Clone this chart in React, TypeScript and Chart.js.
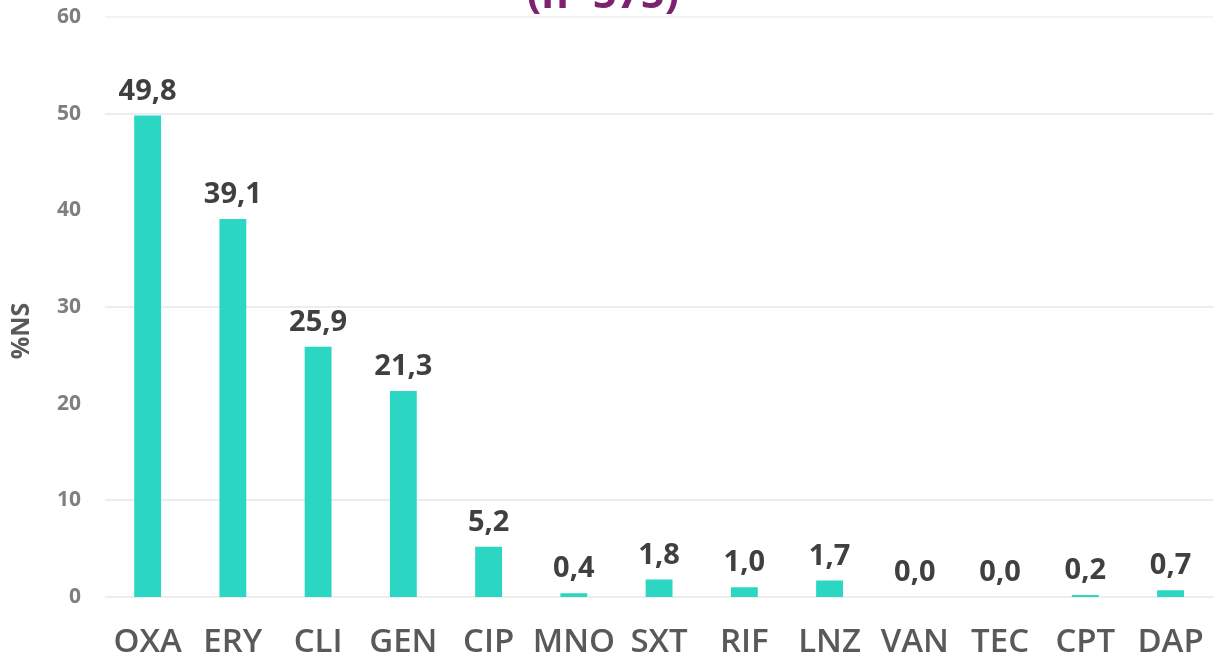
import React, { useEffect, useRef } from "react";
import { Chart, registerables } from "chart.js";

Chart.register(...registerables);

const categories = ["OXA", "ERY", "CLI", "GEN", "CIP", "MNO", "SXT", "RIF", "LNZ", "VAN", "TEC", "CPT", "DAP"];
const valuesNS = [49.8, 39.1, 25.9, 21.3, 5.2, 0.4, 1.8, 1.0, 1.7, 0.0, 0.0, 0.2, 0.7];
const titleText = "(n=575)";
const yAxisTitle = "%NS";
const visibleGridValues = [0, 10, 30, 50, 60];

const FONT = "'Open Sans', 'DejaVu Sans', sans-serif";
const TOP_OFFSET = 32;

const overlayTextPlugin = {
  id: "overlayText",
  beforeDatasetsDraw(chart: any) {
    const { ctx, chartArea } = chart;
    const yScale = chart.scales.y;
    ctx.save();
    ctx.strokeStyle = "#EDEDED";
    ctx.lineWidth = 2;
    visibleGridValues.forEach((v) => {
      const y = Math.round(yScale.getPixelForValue(v));
      ctx.strokeStyle = v === 60 ? "#F3F3F3" : "#EDEDED";
      ctx.beginPath();
      ctx.moveTo(chartArea.left, y);
      ctx.lineTo(chartArea.right, y);
      ctx.stroke();
    });
    ctx.restore();
  },
  afterDraw(chart: any) {
    const { ctx } = chart;
    ctx.save();
    ctx.font = `700 42px ${FONT}`;
    ctx.fillStyle = "#7B2371";
    ctx.textAlign = "center";
    ctx.textBaseline = "alphabetic";
    ctx.fillText(titleText, 603, TOP_OFFSET + 8);
    ctx.translate(22, TOP_OFFSET + 331);
    ctx.rotate(-Math.PI / 2);
    ctx.font = `700 25px ${FONT}`;
    ctx.fillStyle = "#595959";
    ctx.textBaseline = "middle";
    ctx.fillText(yAxisTitle, 0, 0);
    ctx.restore();
  },
  afterDatasetsDraw(chart: any) {
    const { ctx } = chart;
    const meta = chart.getDatasetMeta(0);
    ctx.save();
    ctx.font = `700 29px ${FONT}`;
    ctx.fillStyle = "#404040";
    ctx.textAlign = "center";
    ctx.textBaseline = "alphabetic";
    meta.data.forEach((bar: any, i: number) => {
      const v = valuesNS[i];
      const txt = v.toFixed(1).replace(".", ",");
      ctx.fillText(txt, bar.x, bar.y - 16);
    });
    ctx.restore();
  },
};

export default function App() {
  const canvasRef = useRef<HTMLCanvasElement | null>(null);

  useEffect(() => {
    if (!canvasRef.current) return;
    const chart = new Chart(canvasRef.current, {
      type: "bar",
      data: {
        labels: categories,
        datasets: [
          {
            data: valuesNS,
            backgroundColor: "#2BD6C2",
            borderWidth: 0,
            barPercentage: 0.9,
            categoryPercentage: 0.35,
          },
        ],
      },
      options: {
        animation: false,
        responsive: false,
        maintainAspectRatio: false,
        layout: { padding: { left: 0, right: 8, top: TOP_OFFSET + 17, bottom: 0 } },
        plugins: {
          legend: { display: false },
          tooltip: { enabled: false },
          title: { display: false },
        },
        scales: {
          x: {
            afterFit(scale: any) {
              scale.height = 62;
            },
            grid: { display: false, drawTicks: false },
            border: { display: false },
            ticks: {
              color: "#595959",
              font: { family: FONT, size: 33, weight: 600 },
              padding: 26,
              maxRotation: 0,
              autoSkip: false,
            },
          },
          y: {
            min: 0,
            max: 60,
            afterFit(scale: any) {
              scale.width = 105;
            },
            border: { display: false },
            grid: { display: false, drawTicks: false },
            ticks: {
              stepSize: 10,
              color: "#7F7F7F",
              font: { family: FONT, size: 21, weight: "bold" },
              padding: 24,
            },
            title: { display: false },
          },
        },
      },
      plugins: [overlayTextPlugin],
    });
    return () => chart.destroy();
  }, []);

  return (
    <div
      style={{
        position: "fixed",
        left: 0,
        top: -TOP_OFFSET,
        width: 1214,
        height: 659 + TOP_OFFSET,
        overflow: "hidden",
        background: "#ffffff",
      }}
    >
      <canvas ref={canvasRef} width={1230} height={659 + TOP_OFFSET} style={{ display: "block" }} />
    </div>
  );
}
